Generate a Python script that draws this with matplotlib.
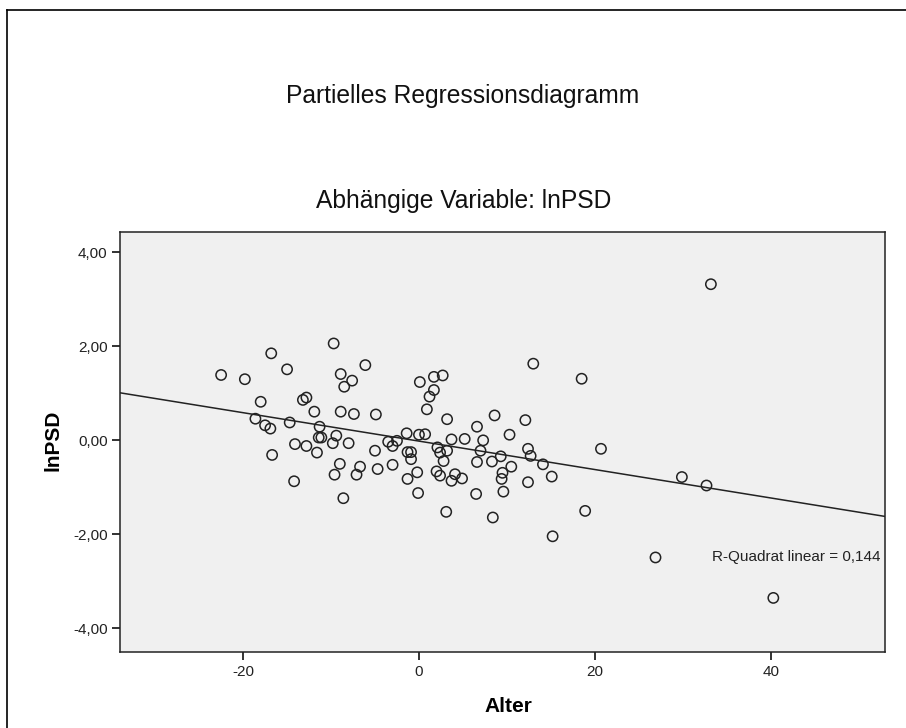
import matplotlib
matplotlib.use('Agg')
import matplotlib.pyplot as plt
from matplotlib.lines import Line2D
from matplotlib.ticker import FuncFormatter, FixedLocator
import numpy as np

plt.rcParams['font.family'] = ['Liberation Sans', 'DejaVu Sans']
plt.rcParams['axes.unicode_minus'] = False

# Werte (Residuen Alter / lnPSD)
alter = [
    -22.5, -19.8, -16.8, -15.0, -18.0, -13.2, -12.8, -11.9, -18.6, -17.5,
    -16.9, -14.7, -11.3, -11.4, -11.1, -9.4, -9.8, -14.1, -12.8, -11.6,
    -16.7, -9.0, -9.6, -14.2, -8.6, -9.7, -6.1, -8.9, -7.6, -8.5,
    0.1, 1.7, 2.7, 1.7, 1.2, 0.9, 3.2, -8.9, -7.4, -4.9,
    -8.0, -1.4, 0.0, 0.7, -3.5, -2.5, -3.0, -5.0, 3.7, 5.2,
    2.1, 2.4, 3.2, 2.8, -1.3, -0.9, -0.9, -6.7, -7.1, -4.7,
    -3.0, -0.2, -1.3, 2.0, 2.4, 4.1, 3.7, 4.9, -0.1, 3.1,
    13.0, 18.5, 8.6, 12.1, 6.6, 10.3, 7.3, 7.0, 12.4, 12.7,
    9.3, 6.6, 8.3, 14.1, 10.5, 20.7, 15.1, 9.5, 9.4, 12.4,
    9.6, 6.5, 18.9, 8.4, 15.2, 33.2, 29.9, 32.7, 26.9, 40.3,
]
lnpsd = [
    1.39, 1.30, 1.85, 1.51, 0.82, 0.86, 0.91, 0.61, 0.46, 0.32,
    0.25, 0.38, 0.29, 0.06, 0.06, 0.10, -0.06, -0.08, -0.12, -0.26,
    -0.31, -0.50, -0.73, -0.87, -1.23, 2.06, 1.60, 1.41, 1.27, 1.14,
    1.24, 1.35, 1.38, 1.07, 0.93, 0.66, 0.45, 0.61, 0.56, 0.55,
    -0.06, 0.15, 0.12, 0.13, -0.03, -0.01, -0.12, -0.22, 0.02, 0.03,
    -0.15, -0.26, -0.22, -0.44, -0.25, -0.25, -0.40, -0.56, -0.73, -0.61,
    -0.52, -0.68, -0.82, -0.66, -0.75, -0.72, -0.86, -0.81, -1.12, -1.52,
    1.63, 1.31, 0.53, 0.43, 0.29, 0.12, 0.00, -0.22, -0.18, -0.33,
    -0.34, -0.46, -0.45, -0.51, -0.56, -0.18, -0.77, -0.69, -0.82, -0.89,
    -1.09, -1.14, -1.50, -1.64, -2.04, 3.32, -0.78, -0.96, -2.49, -3.35,
]

x_ticks = [-20, 0, 20, 40]
y_ticks = [-4, -2, 0, 2, 4]
r2_text = "R-Quadrat linear = 0,144"

fig = plt.figure(figsize=(9.06, 7.28), dpi=100)
ax = fig.add_axes([120 / 906, 1 - 652 / 728, 765 / 906, 420 / 728])
ax.set_facecolor('#f0f0f0')

ax.scatter(alter, lnpsd, s=55, facecolors='none', edgecolors='#222222',
           linewidths=1.1, zorder=3)

xlim = (-34, 53)
ylim = (-4.5, 4.43)
# Regressionsgerade aus den Punkten
slope, icpt = np.polyfit(alter, lnpsd, 1)
xs = np.array(xlim)
ax.plot(xs, slope * xs + icpt, color='#222222', lw=1.1, zorder=2)

ax.set_xlim(*xlim)
ax.set_ylim(*ylim)
ax.xaxis.set_major_locator(FixedLocator(x_ticks))
ax.yaxis.set_major_locator(FixedLocator(y_ticks))
ax.xaxis.set_major_formatter(FuncFormatter(lambda v, p: f"{v:.0f}"))
ax.yaxis.set_major_formatter(FuncFormatter(lambda v, p: f"{v:.2f}".replace('.', ',')))
ax.tick_params(direction='out', length=6, width=1.3, labelsize=11, colors='#222222', pad=3)
for sp in ax.spines.values():
    sp.set_color('#222222')
    sp.set_linewidth(1.1)

ax.text(42.95, -2.47, r2_text, fontsize=11, ha='center', va='center', color='#222222')

# Achsentitel
fig.text(508 / 906, 1 - 707 / 728, 'Alter', fontsize=15, fontweight='bold',
         ha='center', va='center')
fig.text(53 / 906, 1 - 440 / 728, 'lnPSD', fontsize=15, fontweight='bold',
         ha='center', va='center', rotation=90)

fig.text(462.5 / 906, 1 - 103 / 728, 'Partielles Regressionsdiagramm', fontsize=17.7,
         ha='center', va='baseline', color='#111111')
fig.text(463.5 / 906, 1 - 208 / 728, 'Abhängige Variable: lnPSD', fontsize=17.7,
         ha='center', va='baseline', color='#111111')

# Rahmen um das Diagramm (oben und links sichtbar)
fig.add_artist(Line2D([7 / 906, 1.0], [1 - 10 / 728, 1 - 10 / 728], color='black', lw=1.2))
fig.add_artist(Line2D([7 / 906, 7 / 906], [0.0, 1 - 10 / 728], color='black', lw=1.2))

fig.savefig('out.png', dpi=100)
plt.close(fig)
